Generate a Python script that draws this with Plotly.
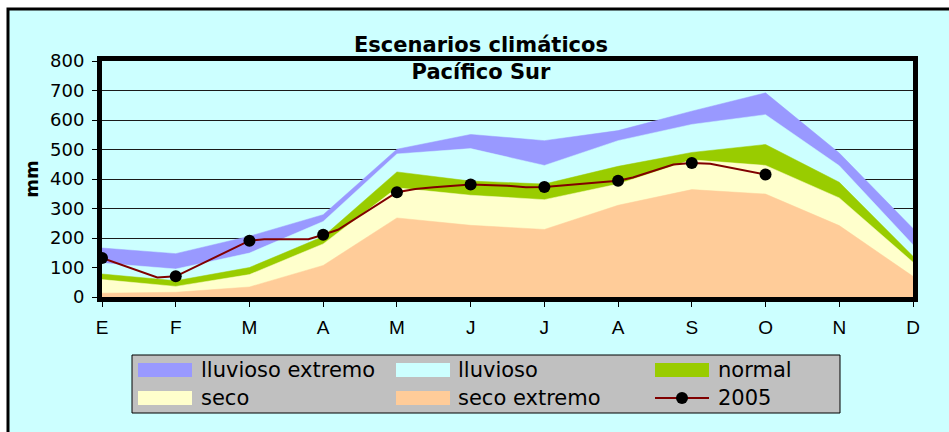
import plotly.graph_objects as go

months = ['E', 'F', 'M', 'A', 'M', 'J', 'J', 'A', 'S', 'O', 'N', 'D']
lluvioso_extremo = [166, 147, 206, 279, 501, 551, 530, 564, 630, 692, 488, 232]
lluvioso = [115, 95, 149, 256, 485, 503, 446, 530, 585, 618, 445, 177]
normal = [78, 55, 100, 205, 424, 393, 383, 443, 490, 517, 389, 138]
seco = [59, 36, 76, 180, 370, 345, 330, 383, 465, 446, 336, 118]
seco_extremo = [13, 16, 34, 107, 268, 243, 229, 311, 364, 349, 242, 70]

# 2005 observed series (position along month axis, value in mm)
pos_2005 = [0, 0.75, 1, 2, 2.2, 2.8, 3, 3.2, 4, 4.25, 4.5, 5, 5.5, 5.75, 6, 7, 7.2, 7.75, 8, 8.25, 9]
val_2005 = [132, 66, 70, 191, 196, 196, 211, 228, 355, 366, 372, 381, 377, 372, 373, 394, 405, 449, 454, 452, 415]

x = list(range(len(months)))
FONT = "DejaVu Sans, Verdana, sans-serif"

series = [
    ("lluvioso extremo", lluvioso_extremo, "#9999FF"),
    ("lluvioso", lluvioso, "#CCFFFF"),
    ("normal", normal, "#99CC00"),
    ("seco", seco, "#FFFFCC"),
    ("seco extremo", seco_extremo, "#FFCC99"),
]
LINE_COL = "#800000"

fig = go.Figure()
for name, vals, col in series:
    fig.add_trace(go.Scatter(
        x=x, y=vals, name=name, mode="lines", fill="tozeroy",
        fillcolor=col, line=dict(color=col, width=0.5),
    ))

msize = [12 if float(p).is_integer() else 0 for p in pos_2005]
fig.add_trace(go.Scatter(
    x=pos_2005, y=val_2005, name="2005", mode="lines+markers",
    line=dict(color=LINE_COL, width=2),
    marker=dict(color="black", size=msize, opacity=1, line=dict(width=0)),
))

# plot area pixel geometry
L, R, T, B = 102, 36, 61, 135
W, H = 949, 432
pw, ph = W - L - R, H - T - B

def px(xp):
    return (xp - L) / pw

def py(yp):
    return (H - B - yp) / ph

shapes = [
    dict(type="rect", xref="paper", yref="paper",
         x0=px(8), x1=px(980), y0=py(470), y1=py(9),
         fillcolor="#CCFFFF", line=dict(color="black", width=3),
         layer="below"),
    # legend box
    dict(type="rect", xref="paper", yref="paper",
         x0=px(132), x1=px(840), y0=py(413), y1=py(355),
         fillcolor="#C0C0C0", line=dict(color="black", width=1),
         layer="above"),
]
annotations = []

# manual legend, 3 columns x 2 rows
col_sw = [138, 396, 655]
col_tx = [199, 456, 716]
row_y = [370, 398]
entries = [(n, c) for n, _, c in series] + [("2005", None)]
for i, (name, col) in enumerate(entries):
    r, c = divmod(i, 3)
    x0 = col_sw[c]
    yc = row_y[r]
    if col is not None:
        shapes.append(dict(type="rect", xref="paper", yref="paper",
                           x0=px(x0), x1=px(x0 + 54), y0=py(yc + 7), y1=py(yc - 7),
                           fillcolor=col, line=dict(width=0), layer="above"))
    else:
        shapes.append(dict(type="line", xref="paper", yref="paper",
                           x0=px(x0), x1=px(x0 + 54), y0=py(yc), y1=py(yc),
                           line=dict(color=LINE_COL, width=2), layer="above"))
        shapes.append(dict(type="circle", xref="paper", yref="paper",
                           x0=px(x0 + 21), x1=px(x0 + 33), y0=py(yc + 6), y1=py(yc - 6),
                           fillcolor="black", line=dict(width=0), layer="above"))
    annotations.append(dict(text=name, xref="paper", yref="paper",
                            x=px(col_tx[c]), y=py(yc), xanchor="left", yanchor="middle",
                            showarrow=False,
                            font=dict(family=FONT, size=21, color="black")))

fig.update_layout(
    width=W, height=H,
    margin=dict(l=L, r=R, t=T, b=B),
    paper_bgcolor="white",
    plot_bgcolor="#CCFFFF",
    font=dict(family=FONT, size=18, color="black"),
    showlegend=False,
    title=dict(
        text="<b>Escenarios climáticos<br>Pacífico Sur</b>",
        x=px(481), xref="paper", xanchor="center",
        y=1 - 52 / H, yref="container", yanchor="middle",
        font=dict(family="DejaVu Sans, Verdana, sans-serif", size=21, color="black"),
    ),
    shapes=shapes,
    annotations=annotations,
)

fig.update_xaxes(
    range=[0, 11], tickvals=x, ticktext=months,
    showgrid=False, zeroline=False,
    showline=True, linecolor="black", linewidth=5, mirror=True,
    ticks="outside", ticklen=5, tickcolor="black", tickwidth=1,
    ticklabelstandoff=4,
    tickfont=dict(family="Liberation Sans, Arial, sans-serif", size=19),
)
fig.update_yaxes(
    range=[0, 800], dtick=100,
    showgrid=True, gridcolor="#1a1a1a", gridwidth=1,
    zeroline=False,
    showline=True, linecolor="black", linewidth=5, mirror=True,
    ticks="outside", ticklen=5, tickcolor="black", tickwidth=1,
    ticklabelstandoff=4,
    tickfont=dict(family=FONT, size=18),
    title=dict(text="<b>mm</b>", standoff=8, font=dict(family=FONT, size=18)),
)

fig.write_html("out.html", config={"displayModeBar": False},
               post_script="document.body.style.margin='0';")
